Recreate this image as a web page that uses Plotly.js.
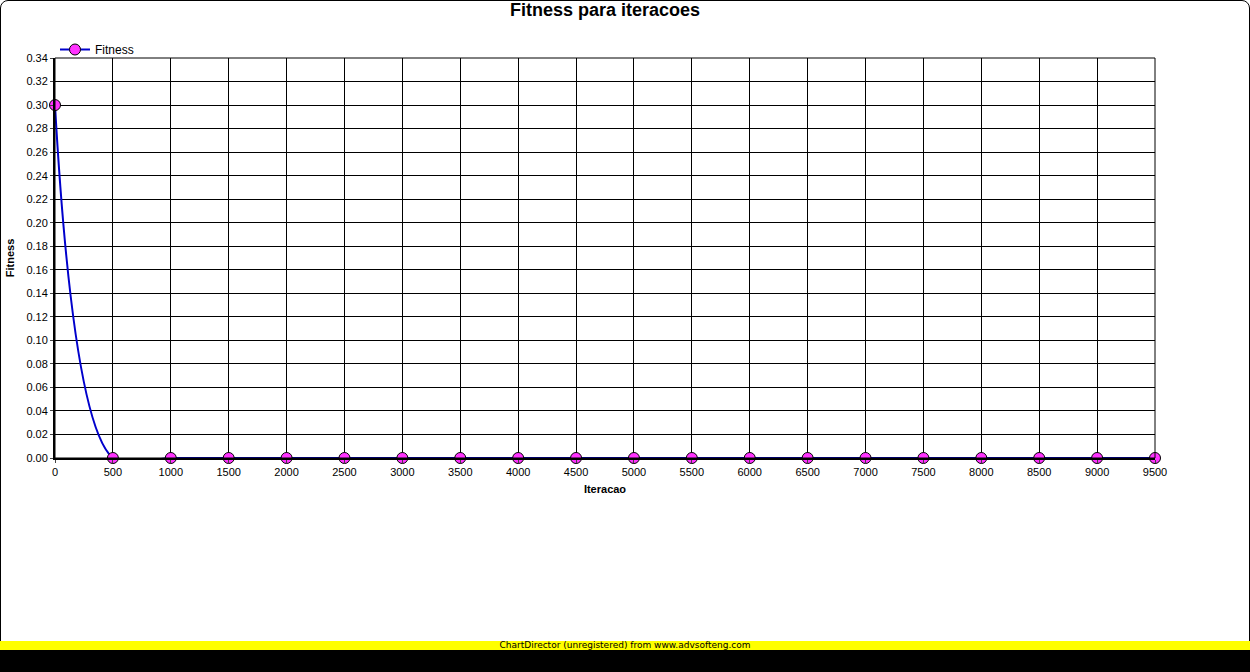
<!DOCTYPE html>
<html>
<head>
<meta charset="utf-8">
<script src="https://cdn.plot.ly/plotly-3.0.1.min.js"></script>
<style>
  body { margin: 0; background: #fff; }
  #wrap { position: relative; width: 1250px; height: 672px; overflow: hidden; }
  #graph { position: absolute; left: 0; top: 0; width: 1250px; height: 672px; }
  #frame { position: absolute; left: 0; top: 0; width: 1248px; height: 670px;
    border: 1px solid #000; border-radius: 8px; pointer-events: none; }
  #banner { position: absolute; left: 0; top: 641px; width: 1250px; height: 9px;
    background: #ffff00; font: 9px "DejaVu Sans", sans-serif; line-height: 9px;
    text-align: center; color: #000; }
  #foot { position: absolute; left: 0; top: 650px; width: 1250px; height: 22px; background: #000; }
</style>
</head>
<body>
<div id="wrap">
  <div id="graph"></div>
  <div id="frame"></div>
  <div id="banner">ChartDirector (unregistered) from www.advsofteng.com</div>
  <div id="foot"></div>
</div>
<script>
// Dados
const iteracoes = [0, 500, 1000, 1500, 2000, 2500, 3000, 3500, 4000, 4500,
  5000, 5500, 6000, 6500, 7000, 7500, 8000, 8500, 9000, 9500];
const fitness = [0.30, 0, 0, 0, 0, 0, 0, 0, 0, 0, 0, 0, 0, 0, 0, 0, 0, 0, 0, 0];

const FONT = "Liberation Sans, Arial, sans-serif";

const trace = {
  x: iteracoes,
  y: fitness,
  name: "Fitness",
  mode: "lines+markers",
  type: "scatter",
  line: { color: "#0000cc", width: 2, shape: "spline", smoothing: 1 },
  marker: { color: "#ff33ff", size: 11, line: { color: "#000", width: 1 } },
  cliponaxis: false,
};

const layout = {
  width: 1250,
  height: 672,
  margin: { l: 55, r: 95, t: 58, b: 214 },
  paper_bgcolor: "rgba(0,0,0,0)",
  plot_bgcolor: "#fff",
  font: { family: FONT, size: 11, color: "#000" },
  title: {
    text: "<b>Fitness para iteracoes</b>",
    font: { size: 18, family: FONT },
    x: 0.5, xref: "paper", y: 0.995, yref: "container", yanchor: "top",
  },
  showlegend: true,
  legend: { x: 0.0, y: 0.985, xanchor: "left", yanchor: "bottom", orientation: "h",
    font: { size: 12 }, bgcolor: "rgba(0,0,0,0)" },
  xaxis: {
    title: { text: "<b>Iteracao</b>", font: { size: 11 }, standoff: 8 },
    range: [0, 9500], tickvals: iteracoes, ticks: "outside", ticklen: 3,
    showgrid: true, gridcolor: "#000", gridwidth: 1,
    showline: true, linecolor: "#000", linewidth: 2, mirror: false, zeroline: false,
    tickfont: { size: 11 },
  },
  yaxis: {
    title: { text: "<b>Fitness</b>", font: { size: 11 }, standoff: 10 },
    range: [0, 0.34], dtick: 0.02, tickformat: ".2f", ticks: "outside", ticklen: 3,
    showgrid: true, gridcolor: "#000", gridwidth: 1,
    showline: true, linecolor: "#000", linewidth: 2, zeroline: false,
    tickfont: { size: 11 },
  },
  shapes: [
    { type: "rect", xref: "paper", yref: "paper", x0: 0, x1: 1, y0: 0, y1: 1,
      line: { color: "#000", width: 1 } },
  ],
};

Plotly.newPlot("graph", [trace], layout, { displayModeBar: false, staticPlot: true });
</script>
</body>
</html>
